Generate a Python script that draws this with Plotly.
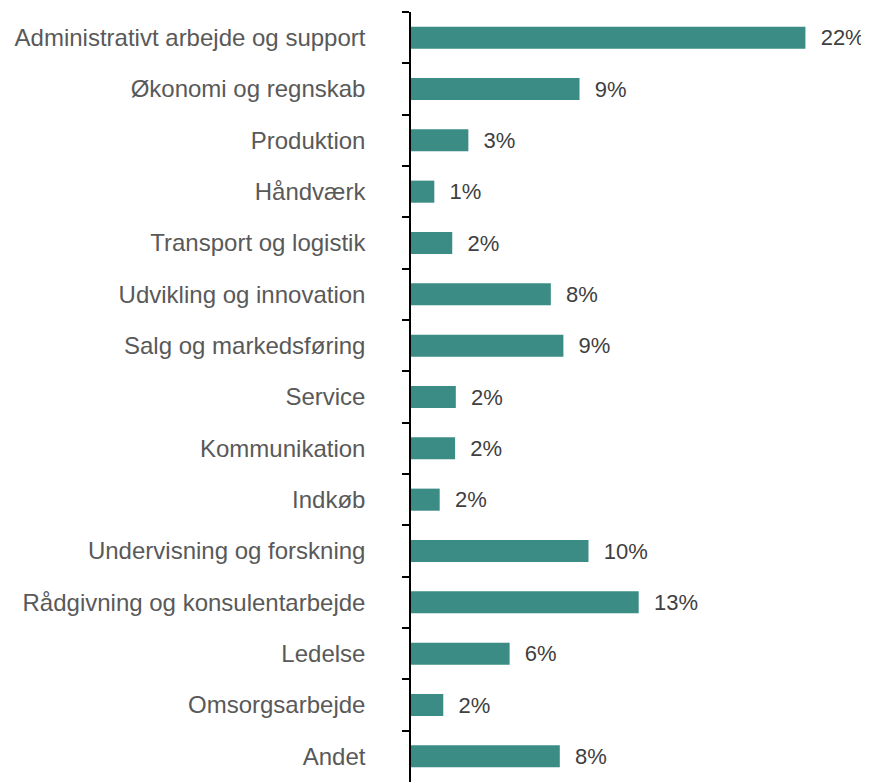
import plotly.graph_objects as go

categories = [
    "Administrativt arbejde og support",
    "Økonomi og regnskab",
    "Produktion",
    "Håndværk",
    "Transport og logistik",
    "Udvikling og innovation",
    "Salg og markedsføring",
    "Service",
    "Kommunikation",
    "Indkøb",
    "Undervisning og forskning",
    "Rådgivning og konsulentarbejde",
    "Ledelse",
    "Omsorgsarbejde",
    "Andet",
]
shares = [22.0, 9.4, 3.2, 1.3, 2.3, 7.8, 8.5, 2.5, 2.46, 1.6, 9.9, 12.7, 5.5, 1.8, 8.3]
labels = ["22%", "9%", "3%", "1%", "2%", "8%", "9%", "2%", "2%", "2%",
          "10%", "13%", "6%", "2%", "8%"]

TEAL = "#3A8C84"
FONT = "Liberation Sans, Arial, sans-serif"

fig = go.Figure(
    go.Bar(
        x=shares,
        y=categories,
        orientation="h",
        marker=dict(color=TEAL, line=dict(width=0)),
        width=0.43,
        text=["\u00a0\u00a0" + t for t in labels],
        textposition="outside",
        constraintext="none",
        cliponaxis=False,
        textfont=dict(family=FONT, size=22, color="#404040"),
        hoverinfo="skip",
    )
)

# the page body adds an 8px offset, so the figure is drawn 8px smaller
fig.update_layout(
    width=861,
    height=774,
    margin=dict(l=403, r=8, t=4, b=0, autoexpand=False),
    paper_bgcolor="white",
    plot_bgcolor="white",
    showlegend=False,
    font=dict(family=FONT, color="#404040"),
    xaxis=dict(
        range=[0, 25.1],
        visible=False,
        showgrid=False,
        zeroline=False,
        automargin=False,
    ),
    yaxis=dict(
        autorange="reversed",
        automargin=False,
        showline=True,
        linecolor="black",
        linewidth=1.5,
        ticks="outside",
        tickson="boundaries",
        ticklen=7,
        tickwidth=1.5,
        tickcolor="black",
        ticklabelstandoff=39,
        tickfont=dict(family=FONT, size=24, color="#595959"),
        showgrid=False,
    ),
)

fig.write_html("out.html")
